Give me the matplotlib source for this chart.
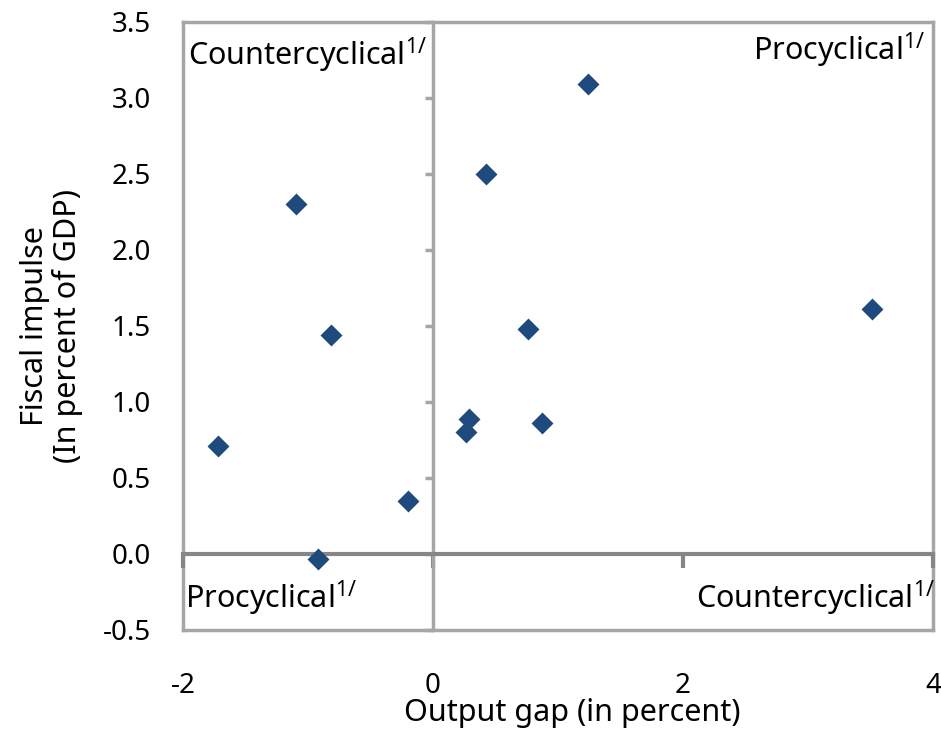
import numpy as np
import matplotlib
matplotlib.use("Agg")
import matplotlib.pyplot as plt

plt.rcParams['font.family'] = ['Noto Sans', 'DejaVu Sans']
plt.rcParams['mathtext.fontset'] = 'custom'
plt.rcParams['mathtext.rm'] = 'Noto Sans'
plt.rcParams['axes.unicode_minus'] = False

# output gap (x) vs fiscal impulse (y)
output_gap = [1.24, 0.42, -1.10, -0.82, 0.76, 3.51, -1.72, 0.29, 0.26, 0.87, -0.20, -0.92]
fiscal_impulse = [3.09, 2.50, 2.30, 1.44, 1.48, 1.61, 0.71, 0.89, 0.80, 0.86, 0.35, -0.03]

xticks = [-2, 0, 2, 4]
yticks = [-0.5, 0.0, 0.5, 1.0, 1.5, 2.0, 2.5, 3.0, 3.5]

frame_col = '#A6A6A6'
axis_col = '#868686'
dot_col = '#1F4A7E'

fig = plt.figure(figsize=(9.41, 7.37), dpi=100)
pos = [183/941, 107/737, 750/941, 608/737]
ax = fig.add_axes(pos)
ax.set_xlim(-2, 4)
ax.set_ylim(-0.5, 3.5)
ax.set_xticks(xticks)
ax.set_yticks(yticks)
ax.set_yticklabels(['%.1f' % v for v in yticks])
ax.tick_params(length=0, labelsize=20)
ax.tick_params(axis='x', pad=30)
ax.tick_params(axis='y', pad=23)
for s in ax.spines.values():
    s.set_color(frame_col)
    s.set_linewidth(2.5)

# zero lines with their own tick marks
ax2 = fig.add_axes(pos, sharex=ax, sharey=ax)
ax2.set_facecolor('none')
ax2.spines['top'].set_visible(False)
ax2.spines['right'].set_visible(False)
ax2.spines['left'].set_position(('data', 0))
ax2.spines['bottom'].set_position(('data', 0))
ax2.spines['left'].set_color(frame_col)
ax2.spines['left'].set_linewidth(2.5)
ax2.spines['bottom'].set_color(axis_col)
ax2.spines['bottom'].set_linewidth(3)
ax2.tick_params(axis='y', direction='out', length=6, width=2.5, color=frame_col, labelleft=False)
ax2.tick_params(axis='x', direction='out', length=10, width=3, color=axis_col, labelbottom=False)

ax2.scatter(output_gap, fiscal_impulse, marker='D', s=125, color=dot_col, linewidths=0,
            zorder=5, clip_on=False)

ax.set_xlabel('Output gap (in percent)', fontsize=22)
ax.xaxis.set_label_coords(0.519, -0.112)
ax.set_ylabel('Fiscal impulse\n(In percent of GDP)', fontsize=22, linespacing=1.1)
ax.yaxis.set_label_coords(-0.133, 0.5)

ax.text(0.007, 0.929, r'Countercyclical$^{\mathrm{1/}}$', transform=ax.transAxes, fontsize=22,
        ha='left', va='baseline')
ax.text(0.989, 0.9375, r'Procyclical$^{\mathrm{1/}}$', transform=ax.transAxes, fontsize=22,
        ha='right', va='baseline')
ax.text(0.003, 0.036, r'Procyclical$^{\mathrm{1/}}$', transform=ax.transAxes, fontsize=22,
        ha='left', va='baseline')
ax.text(1.003, 0.036, r'Countercyclical$^{\mathrm{1/}}$', transform=ax.transAxes, fontsize=22,
        ha='right', va='baseline')

fig.savefig('out.png', dpi=100)
